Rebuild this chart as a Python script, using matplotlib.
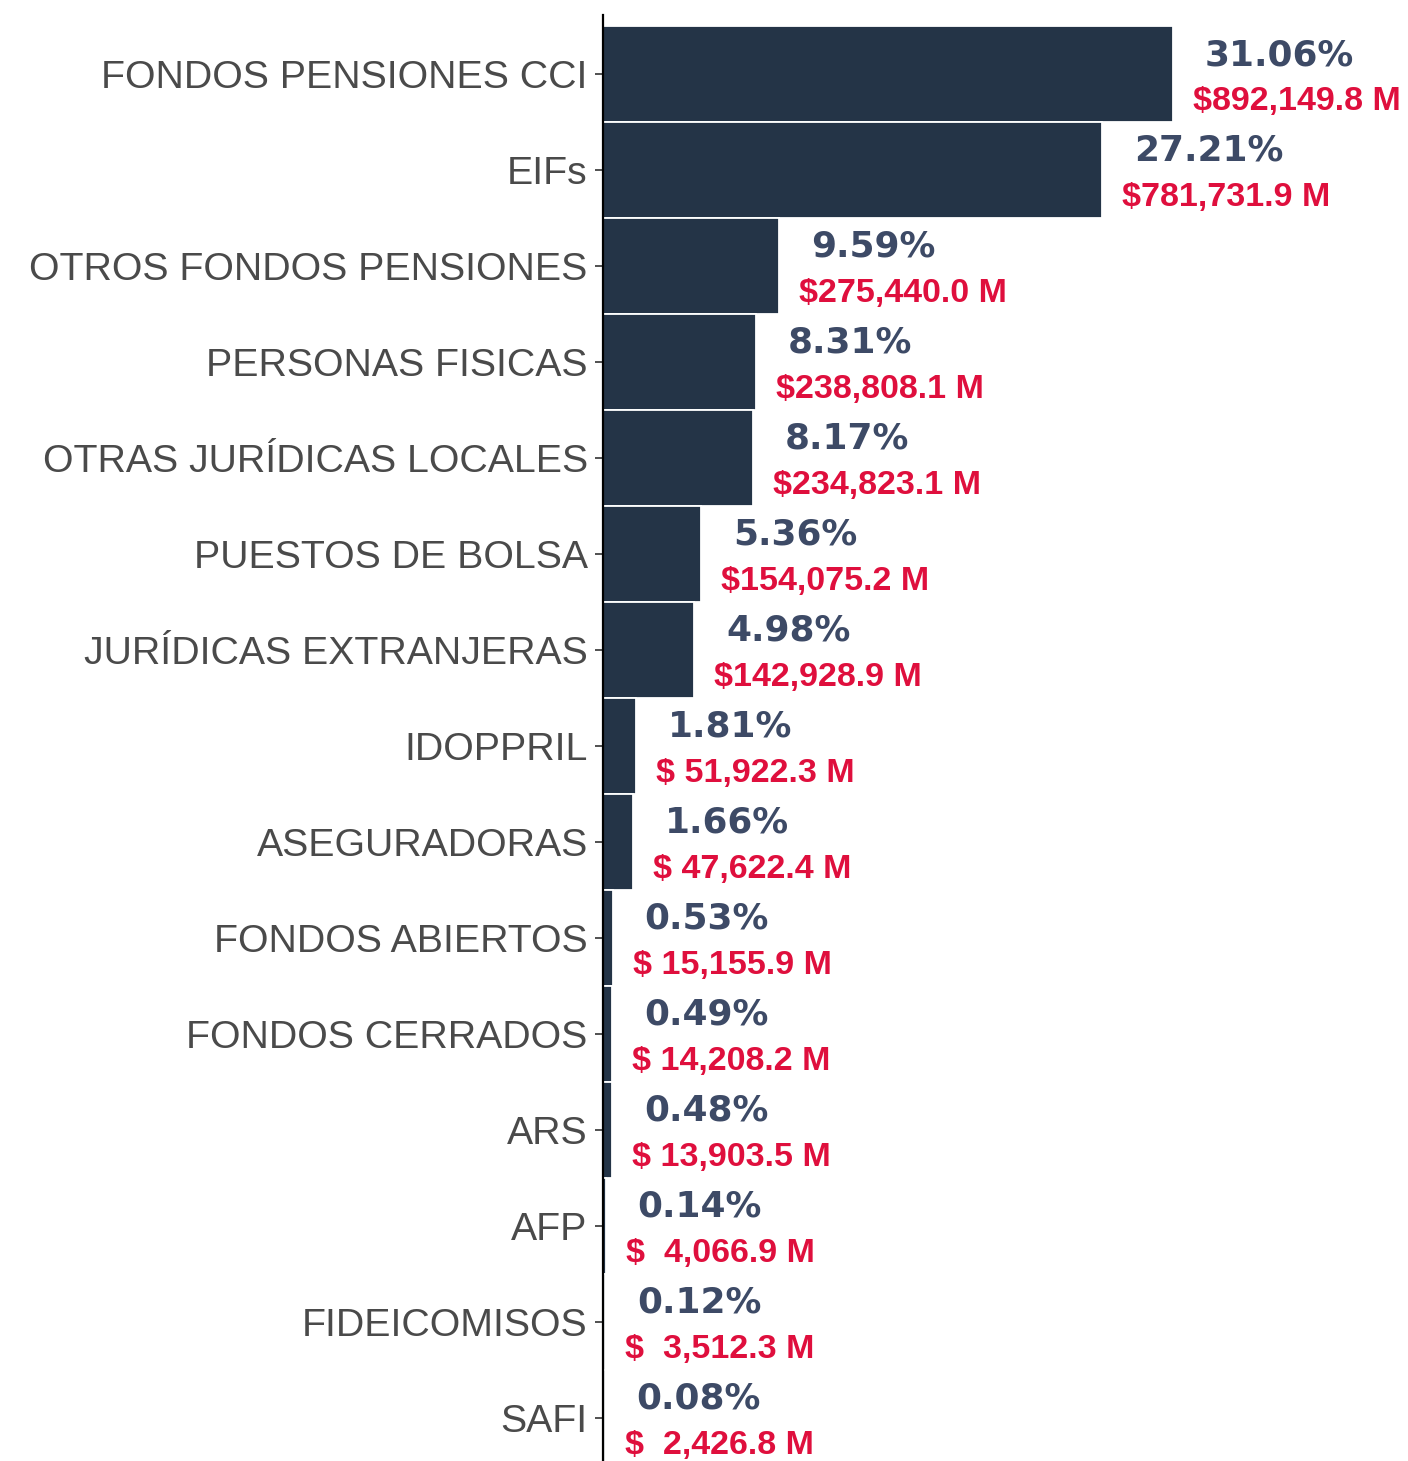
import matplotlib
matplotlib.use("Agg")
import matplotlib.pyplot as plt

categories = ["FONDOS PENSIONES CCI", "EIFs", "OTROS FONDOS PENSIONES", "PERSONAS FISICAS",
              "OTRAS JURÍDICAS LOCALES", "PUESTOS DE BOLSA", "JURÍDICAS EXTRANJERAS",
              "IDOPPRIL", "ASEGURADORAS", "FONDOS ABIERTOS", "FONDOS CERRADOS", "ARS",
              "AFP", "FIDEICOMISOS", "SAFI"]
values = [892149.8, 781731.9, 275440.0, 238808.1, 234823.1, 154075.2, 142928.9,
          51922.3, 47622.4, 15155.9, 14208.2, 13903.5, 4066.9, 3512.3, 2426.8]
percents = [31.06, 27.21, 9.59, 8.31, 8.17, 5.36, 4.98, 1.81, 1.66, 0.53, 0.49, 0.48, 0.14, 0.12, 0.08]

BAR = "#243447"
PCT = "#3d4a66"
VAL = "#df0f3d"
LAB = "#4a4a4a"

W, H, DPI = 1408, 1461, 100
fig = plt.figure(figsize=(W / DPI, H / DPI), dpi=DPI)
ax = fig.add_axes([603 / W, 0, 1 - 603 / W, 1 - 15 / H])

y = list(range(len(categories)))
ax.barh(y, values, height=1.0, color=BAR, edgecolor="white", linewidth=1.3)

ax.set_ylim(len(categories) - 0.55, -0.615)
ax.set_xlim(0, values[0] * (W - 603) / 570)

ax.set_yticks(y)
ax.set_yticklabels(categories, fontsize=28.3, color=LAB, family="Liberation Sans")
ax.tick_params(axis="y", length=6, width=1.2, color="#333333", pad=5)
ax.set_xticks([])

for s in ["top", "right", "bottom"]:
    ax.spines[s].set_visible(False)
ax.spines["left"].set_color("black")
ax.spines["left"].set_linewidth(1.6)


def money(v):
    s = f"{v:,.1f}"
    if len(s) < 9:
        s = s.rjust(9)
    return f"$ {s} M".replace("$  ", "$ ") if False else ("$" + (" " if v < 100000 else "") + f"{v:,.1f}" + " M")


for yi, v, p in zip(y, values, percents):
    ax.annotate(f"{p:.2f}%", xy=(v, yi), xytext=(23, 6.5), textcoords="offset points",
                ha="left", va="baseline", fontsize=25.8, fontweight="bold",
                color=PCT, family="DejaVu Sans")
    if v >= 100000:
        lab = f"${v:,.1f} M"
    elif v >= 10000:
        lab = f"$ {v:,.1f} M"
    else:
        lab = f"$  {v:,.1f} M"
    ax.annotate(lab, xy=(v, yi), xytext=(14.4, -26), textcoords="offset points",
                ha="left", va="baseline", fontsize=24.5, fontweight="bold",
                color=VAL, family="Liberation Sans")

fig.savefig("out.png", dpi=DPI, facecolor="white")
